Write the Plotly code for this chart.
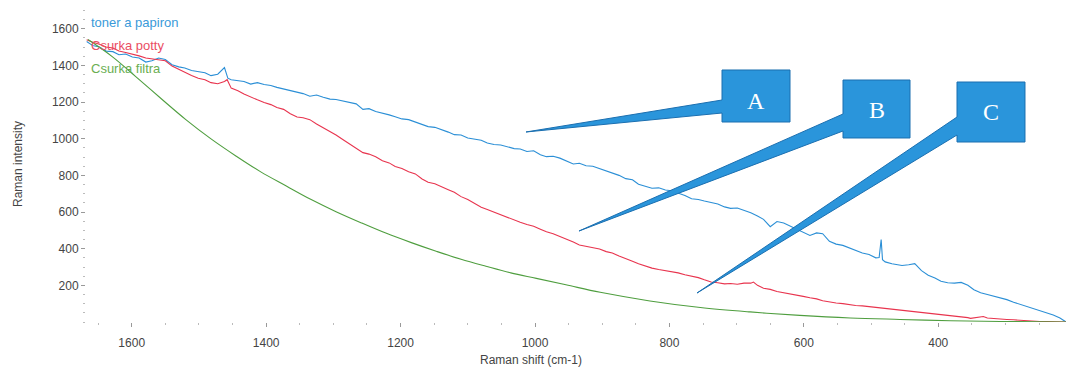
import plotly.graph_objects as go

# Raman spectra (shift in cm-1, intensity in counts)
toner_shift = [1667, 1658, 1648, 1638, 1628, 1619, 1609, 1599, 1589, 1579, 1570, 1560, 1550,
               1540, 1530, 1521, 1511, 1501, 1491, 1482, 1472, 1462, 1457, 1452, 1442, 1433,
               1423, 1413, 1403, 1393, 1384, 1374, 1364, 1354, 1345, 1335, 1325, 1315, 1305,
               1296, 1286, 1276, 1266, 1256, 1247, 1237, 1227, 1217, 1208, 1198, 1188, 1178,
               1168, 1159, 1149, 1139, 1129, 1120, 1110, 1100, 1090, 1080, 1071, 1061, 1051,
               1041, 1031, 1022, 1012, 1002, 992, 983, 973, 963, 953, 943, 934, 924, 914, 904,
               894, 885, 875, 865, 855, 846, 836, 826, 816, 806, 797, 787, 777, 767, 757, 748,
               738, 728, 718, 709, 699, 689, 679, 669, 660, 650, 640, 630, 620, 611, 601, 591,
               581, 572, 562, 552, 542, 532, 523, 513, 503, 493, 488, 485, 483, 479, 469, 454,
               444, 435, 425, 415, 405, 396, 386, 376, 366, 356, 347, 337, 327, 317, 307, 298,
               288, 278, 268, 259, 249, 239, 229, 219, 210]
toner = [1530, 1508, 1500, 1478, 1475, 1458, 1462, 1446, 1440, 1418, 1425, 1440, 1432,
         1404, 1392, 1386, 1372, 1368, 1360, 1344, 1352, 1388, 1330, 1322, 1316, 1312,
         1298, 1306, 1296, 1290, 1280, 1272, 1262, 1254, 1246, 1232, 1238, 1226, 1216,
         1214, 1206, 1200, 1190, 1160, 1164, 1148, 1140, 1130, 1120, 1108, 1104, 1092,
         1080, 1066, 1062, 1050, 1036, 1022, 1020, 1004, 1000, 992, 976, 968, 966,
         955, 946, 944, 930, 934, 912, 902, 904, 894, 876, 862, 866, 852, 850, 838,
         826, 812, 800, 782, 776, 752, 740, 730, 732, 720, 716, 704, 690, 672, 668, 660,
         650, 644, 628, 620, 622, 610, 596, 578, 560, 520, 548, 540, 522, 505, 488, 472,
         486, 482, 440, 425, 418, 405, 392, 376, 368, 350, 352, 450, 340, 328, 318, 308,
         312, 318, 280, 255, 240, 222, 214, 212, 216, 200, 176, 160, 150, 140, 132, 122,
         108, 96, 84, 74, 64, 52, 38, 22, 0]

potty_shift = [1667, 1658, 1648, 1638, 1628, 1619, 1609, 1599, 1589, 1579, 1570, 1560, 1550,
               1540, 1530, 1521, 1511, 1501, 1491, 1482, 1472, 1462, 1458, 1452, 1442, 1433,
               1423, 1413, 1403, 1393, 1384, 1374, 1364, 1354, 1345, 1335, 1325, 1315, 1305,
               1296, 1286, 1276, 1266, 1256, 1247, 1237, 1227, 1217, 1208, 1198, 1188, 1178,
               1168, 1159, 1149, 1139, 1129, 1120, 1110, 1100, 1090, 1080, 1071, 1061, 1051,
               1041, 1031, 1022, 1012, 1002, 992, 983, 973, 963, 953, 943, 934, 924, 914, 904,
               894, 885, 875, 865, 855, 846, 836, 826, 816, 806, 797, 787, 777, 767, 757, 748,
               738, 728, 718, 709, 699, 689, 679, 675, 669, 660, 650, 640, 630, 620, 611, 601,
               591, 581, 572, 562, 552, 542, 532, 523, 513, 503, 493, 484, 474, 464, 454, 444,
               435, 425, 415, 405, 396, 386, 376, 366, 356, 352, 343, 333, 327, 317, 307, 298,
               288, 278, 268, 259, 249, 239, 229, 219, 210]
potty = [1540, 1526, 1515, 1500, 1495, 1478, 1470, 1462, 1452, 1440, 1436, 1432, 1425,
         1396, 1378, 1360, 1345, 1330, 1322, 1306, 1300, 1312, 1322, 1276, 1262, 1244,
         1226, 1212, 1198, 1186, 1170, 1160, 1136, 1118, 1114, 1104, 1080, 1060, 1036,
         1020, 996, 972, 948, 924, 916, 902, 880, 868, 848, 838, 820, 808,
         780, 762, 754, 740, 722, 708, 684, 668, 646, 626, 614, 600, 582,
         568, 556, 544, 532, 522, 506, 492, 482, 468, 450, 436, 420, 412, 404, 398,
         384, 376, 360, 348, 332, 318, 304, 294, 286, 280, 272, 268, 258, 252, 242, 230,
         218, 214, 208, 210, 206, 212, 212, 218, 200, 184, 178, 166, 160, 152, 146, 140,
         132, 126, 116, 108, 104, 100, 94, 90, 88, 84, 80, 76, 74, 70, 64, 60,
         56, 52, 50, 46, 42, 38, 34, 30, 24, 20, 26, 30, 22, 18, 16, 14,
         12, 9, 6, 4, 3, 2, 1, 1, 0]

filtra_shift = [1665, 1629, 1594, 1556, 1519, 1482, 1445, 1408, 1370, 1333, 1296, 1259, 1222,
                1184, 1147, 1110, 1073, 1036, 998, 954, 903, 829, 754, 680, 606, 531, 457,
                382, 308, 210]
filtra = [1541, 1448, 1339, 1218, 1103, 999, 906, 819, 742, 668, 602, 542, 485,
          433, 386, 342, 304, 268, 238, 203, 162, 115, 79, 55, 36, 22, 14,
          7, 3, 0]

series_names = ["toner a papiron", "Csurka potty", "Csurka filtra"]
series_colors = ["#2b8fd6", "#e8344e", "#4f9e3f"]
label_colors = ["#3a9ad9", "#ea4d63", "#6aae52"]
callout_letters = ["A", "B", "C"]

fig = go.Figure()
fig.add_trace(go.Scatter(x=toner_shift, y=toner, mode="lines", name=series_names[0],
                         line=dict(color=series_colors[0], width=1.1)))
fig.add_trace(go.Scatter(x=potty_shift, y=potty, mode="lines", name=series_names[1],
                         line=dict(color=series_colors[1], width=1.1)))
fig.add_trace(go.Scatter(x=filtra_shift, y=filtra, mode="lines", name=series_names[2],
                         line=dict(color=series_colors[2], width=1.1, shape="spline")))

W, H = 1068, 368
L, R, T, B = 86, 1066, 6, 322


def px(x):
    return (x - L) / (R - L)


def py(y):
    return (B - y) / (B - T)


# blue callout boxes with a wedge pointer, given in page pixels
callouts = [
    dict(box=(722, 70, 790, 122), base=(100, 113), tip=(526, 132), text_y=101),
    dict(box=(843, 80, 910, 138), base=(114, 131), tip=(579, 231), text_y=110),
    dict(box=(957, 82, 1025, 142), base=(117, 135), tip=(697, 293), text_y=112),
]

shapes = []
annotations = []
for letter, c in zip(callout_letters, callouts):
    x0, y0, x1, y1 = c["box"]
    b0, b1 = c["base"]
    tx, ty = c["tip"]
    pts = [(x0, y0), (x1, y0), (x1, y1), (x0, y1), (x0, b1), (tx, ty), (x0, b0)]
    path = "M " + " L ".join(f"{px(a):.5f},{py(b):.5f}" for a, b in pts) + " Z"
    shapes.append(dict(type="path", xref="paper", yref="paper", path=path,
                       fillcolor="#2a95db", line=dict(color="#1b6fb0", width=1), layer="above"))
    annotations.append(dict(xref="paper", yref="paper", x=px((x0 + x1) / 2), y=py(c["text_y"]),
                            text=letter, showarrow=False, xanchor="center", yanchor="middle",
                            font=dict(family="Liberation Serif, DejaVu Serif, serif", size=24,
                                      color="white")))

# series labels in the top-left corner
for i, (name, col) in enumerate(zip(series_names, label_colors)):
    annotations.append(dict(xref="paper", yref="paper", x=px(89), y=py(22 + 23 * i),
                            text=name, showarrow=False, xanchor="left", yanchor="middle",
                            font=dict(family="Liberation Sans, Arial, sans-serif", size=13,
                                      color=col)))

# x axis title
annotations.append(dict(xref="paper", yref="paper", x=px(531), y=py(360), text="Raman shift (cm-1)",
                        showarrow=False, xanchor="center", yanchor="middle",
                        font=dict(family="Liberation Sans, Arial, sans-serif", size=12, color="#444")))

axis_font = dict(family="Liberation Sans, Arial, sans-serif", size=12, color="#444")

fig.update_layout(
    width=W, height=H,
    margin=dict(l=L, r=W - R, t=T, b=H - B),
    paper_bgcolor="white", plot_bgcolor="white",
    showlegend=False,
    shapes=shapes,
    annotations=annotations,
    xaxis=dict(range=[1668, 210], showgrid=False, zeroline=False, showline=False,
               tickvals=[1600, 1400, 1200, 1000, 800, 600, 400],
               ticks="outside", ticklen=4, tickcolor="#999", tickwidth=1,
               ticklabelstandoff=6,
               minor=dict(dtick=50, tick0=0, ticks="outside", ticklen=2, tickcolor="#bbb",
                          showgrid=False),
               tickfont=axis_font),
    yaxis=dict(range=[0, 1724], showgrid=False, zeroline=False, showline=False,
               tickvals=[200, 400, 600, 800, 1000, 1200, 1400, 1600],
               ticks="outside", ticklen=4, tickcolor="#999", tickwidth=1,
               minor=dict(dtick=50, tick0=0, ticks="outside", ticklen=2, tickcolor="#bbb",
                          showgrid=False),
               title=dict(text="Raman intensity", font=dict(family="Liberation Sans, Arial, sans-serif",
                                                             size=12, color="#444"), standoff=26),
               tickfont=axis_font),
)

fig.write_html("out.html")
